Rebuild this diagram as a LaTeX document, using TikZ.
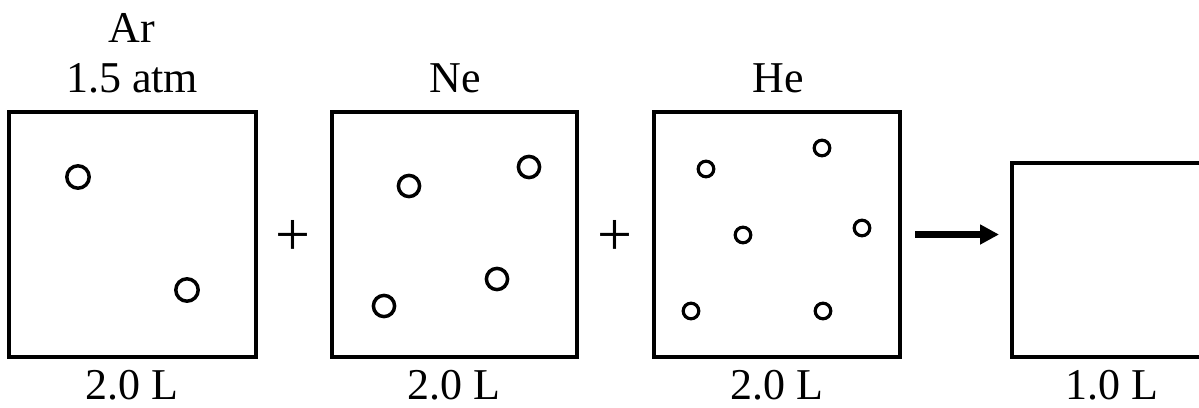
\documentclass[tikz,border=0pt]{standalone}
\usepackage{fontspec}
\setmainfont{Liberation Serif}
\usetikzlibrary{arrows.meta}
\begin{document}
\begin{tikzpicture}[x=0.5pt,y=-0.5pt,
  box/.style={draw, line width=2pt, rectangle, inner sep=0pt, outer sep=0pt},
  lbl/.style={font=\fontsize{22}{26}\selectfont, inner sep=0pt, anchor=base},
  plussign/.style={font=\fontsize{31}{34}\selectfont, inner sep=0pt, anchor=center},
  bigmol/.style={line width=1.75pt},
  smallmol/.style={line width=1.6pt},
  arr/.style={line width=3.5pt, -{Triangle[length=9.5pt,width=9.5pt]}}]
\useasboundingbox (0,0) rectangle (1199,407);
\clip (0,0) rectangle (1199,407);
% containers
\node[box, minimum width=123.5pt, minimum height=122.5pt] (b1) at (132.5,234.5) {};
\node[box, minimum width=122.5pt, minimum height=122.5pt] (b2) at (454.5,234.5) {};
\node[box, minimum width=123pt, minimum height=122.5pt] (b3) at (777,234.5) {};
\node[box, minimum width=124pt, minimum height=97pt] (b4) at (1136,260) {};
% labels
\node[lbl] (ar) at (132,42) {Ar};
\node[lbl] (p1) at (132,92) {1.5 atm};
\node[lbl] (ne) at (455,92) {Ne};
\node[lbl] (he) at (778,92) {He};
\node[lbl] (v1) at (132,399) {2.0 L};
\node[lbl] (v2) at (454,399) {2.0 L};
\node[lbl] (v3) at (777,399) {2.0 L};
\node[lbl] (v4) at (1112,399) {1.0 L};
% plus signs
\node[plussign] (plus1) at (293,238) {+};
\node[plussign] (plus2) at (615,238) {+};
% arrow
\draw[arr] ([xshift=7.5pt]b3.east) -- ([xshift=-6.5pt]b3.east -| b4.west);
% Ar atoms
\draw[bigmol] (78,177) circle[radius=5.6pt];
\draw[bigmol] (187,290) circle[radius=5.6pt];
% Ne atoms
\draw[bigmol] (409,186) circle[radius=5.3pt];
\draw[bigmol] (529,167) circle[radius=5.3pt];
\draw[bigmol] (384,306) circle[radius=5.3pt];
\draw[bigmol] (497,279) circle[radius=5.3pt];
% He atoms
\draw[smallmol] (706,169) circle[radius=3.9pt];
\draw[smallmol] (822,148) circle[radius=3.9pt];
\draw[smallmol] (743,235) circle[radius=3.9pt];
\draw[smallmol] (862,228) circle[radius=3.9pt];
\draw[smallmol] (691,311) circle[radius=3.9pt];
\draw[smallmol] (823,311) circle[radius=3.9pt];
\end{tikzpicture}
\end{document}
